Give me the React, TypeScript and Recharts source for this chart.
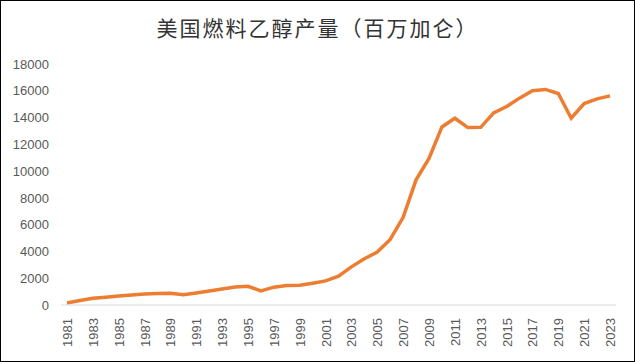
import React from 'react';
import { LineChart, Line, XAxis, YAxis } from 'recharts';

const years = [
  '1981', '1982', '1983', '1984', '1985', '1986', '1987', '1988', '1989', '1990',
  '1991', '1992', '1993', '1994', '1995', '1996', '1997', '1998', '1999', '2000',
  '2001', '2002', '2003', '2004', '2005', '2006', '2007', '2008', '2009', '2010',
  '2011', '2012', '2013', '2014', '2015', '2016', '2017', '2018', '2019', '2020',
  '2021', '2022', '2023',
];

const production = [
  150, 330, 500, 580, 670, 750, 830, 850, 870, 760,
  900, 1050, 1200, 1350, 1400, 1050, 1330, 1450, 1470, 1630,
  1800, 2150, 2850, 3450, 3950, 4900, 6550, 9350, 10950, 13300,
  13950, 13250, 13270, 14350, 14820, 15450, 16000, 16100, 15800, 13950,
  15050, 15400, 15620,
];

const yTicks = [0, 2000, 4000, 6000, 8000, 10000, 12000, 14000, 16000, 18000];

const data = years.map((year, i) => ({ year, value: production[i] }));

const YearTick = (props: any) => {
  const { x, y, payload } = props;
  return (
    <text
      x={x + 5}
      y={y + 5}
      transform={`rotate(-90, ${x + 5}, ${y + 5})`}
      textAnchor="end"
      fontSize={13}
      fill="#595959"
      fontFamily="Liberation Sans, Arial, sans-serif"
    >
      {payload.value}
    </text>
  );
};

export default function App() {
  return (
    <div style={{ position: 'absolute', left: 0, top: 0, width: 635, height: 362, background: '#fff' }}>
      <div
        style={{
          position: 'absolute',
          left: 0,
          top: 0,
          width: 635,
          height: 362,
          border: '1px solid #000',
          boxSizing: 'border-box',
          pointerEvents: 'none',
        }}
      />
      <div
        style={{
          position: 'absolute',
          left: 0,
          top: 12,
          width: 635,
          textAlign: 'center',
          fontFamily: '"Noto Sans CJK SC", sans-serif',
          fontSize: 21,
          letterSpacing: 2,
          color: '#333',
          lineHeight: '30px',
        }}
      >
        美国燃料乙醇产量（百万加仑）
      </div>
      <LineChart
        width={635}
        height={362}
        data={data}
        margin={{ top: 64, right: 19, bottom: 12, left: 0 }}
      >
        <XAxis
          dataKey="year"
          interval={1}
          tickLine={false}
          axisLine={{ stroke: '#d9d9d9' }}
          padding={{ left: 6, right: 6 }}
          height={45}
          tick={<YearTick />}
        />
        <YAxis
          width={61}
          domain={[0, 18000]}
          ticks={yTicks}
          tickLine={false}
          axisLine={false}
          tickMargin={6}
          tick={{ fontSize: 13, fill: '#595959', fontFamily: 'Liberation Sans, Arial, sans-serif' }}
        />
        <Line
          type="linear"
          dataKey="value"
          stroke="#ED7D31"
          strokeWidth={3.5}
          dot={false}
          isAnimationActive={false}
        />
      </LineChart>
    </div>
  );
}
